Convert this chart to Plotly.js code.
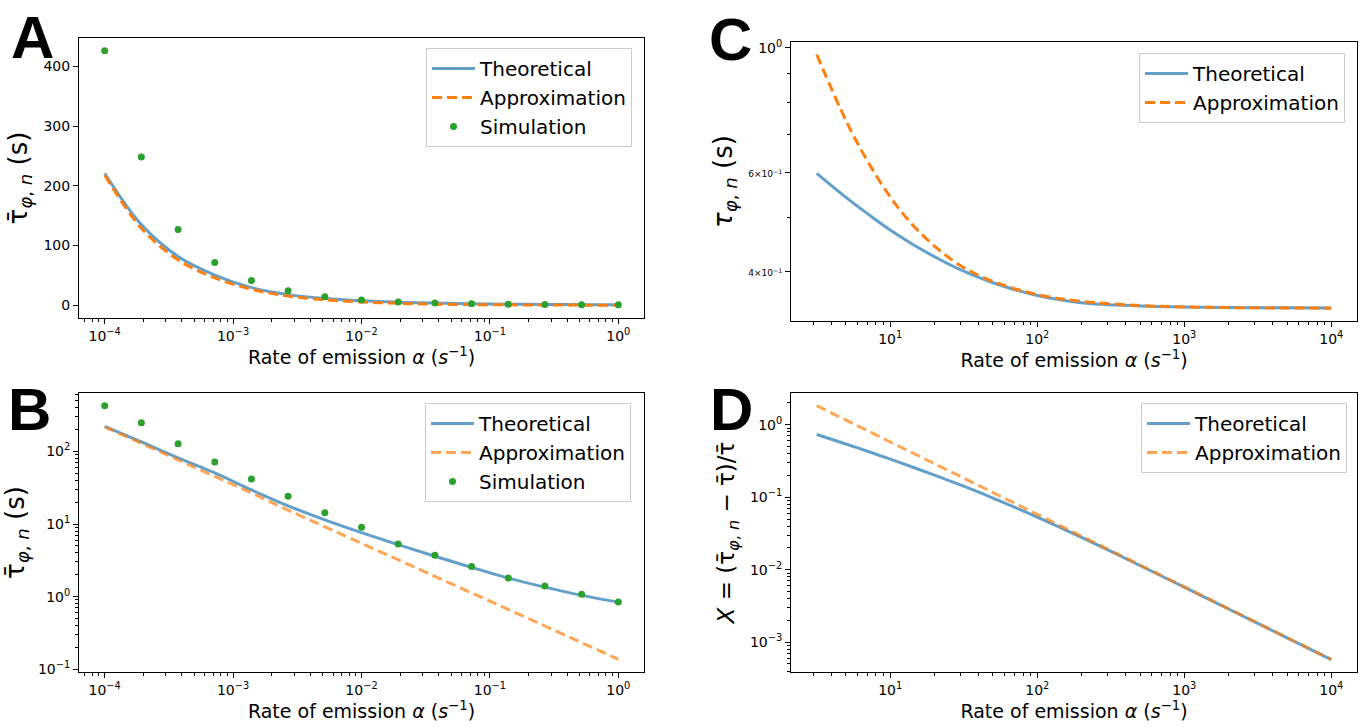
<!DOCTYPE html>
<html>
<head>
<meta charset="utf-8">
<script src="https://cdn.plot.ly/plotly-3.0.1.min.js"></script>
<style>
html,body{margin:0;padding:0;background:#fff;}
#chart{width:1363px;height:728px;}
</style>
</head>
<body>
<div id="chart"></div>
<script>
// ---------- Data ----------
// Panels A and B: rate of emission alpha (s^-1)
const simRate = [1e-4, 1.93e-4, 3.73e-4, 7.2e-4, 1.39e-3, 2.68e-3, 5.18e-3, 1e-2,
                 1.93e-2, 3.73e-2, 7.2e-2, 0.139, 0.268, 0.518, 1];
const simTau = [426, 248, 127, 71.5, 41.5, 24.2, 14.3, 9.0, 5.3, 3.7, 2.6, 1.8, 1.4, 1.08, 0.84];
const theoTauAB = [221, 135, 81.5, 50.5, 29.5, 17.8, 11.4, 7.6, 5.2, 3.6, 2.53, 1.80, 1.35, 1.04, 0.84];
const approxTauAB = [218, 129, 76, 46, 26.8, 15.5, 9.2, 5.45, 3.23, 1.91, 1.13, 0.666, 0.394, 0.232, 0.137];

// Panels C and D
const rateCD = [3.162, 5, 7, 10, 14, 20, 30, 50, 100, 200, 500, 1000, 2000, 5000, 10000];
const theoTauC = [0.598, 0.542, 0.507, 0.474, 0.448, 0.425, 0.403, 0.382, 0.3625, 0.352, 0.3474, 0.3459, 0.3452, 0.3447, 0.3443];
const approxTauC = [0.973, 0.742, 0.629, 0.543, 0.486, 0.444, 0.410, 0.384, 0.364, 0.354, 0.348, 0.346, 0.345, 0.3444, 0.3442];
const theoXD = [0.733, 0.542, 0.431, 0.335, 0.263, 0.202, 0.1476, 0.0973, 0.0532, 0.0279, 0.01143, 0.00574, 0.00287, 0.001148, 0.000574];
const approxXD = [1.83, 1.16, 0.83, 0.58, 0.414, 0.29, 0.193, 0.116, 0.058, 0.029, 0.0116, 0.0058, 0.0029, 0.00116, 0.00058];

// Tick labels
const tickValsAB = [1e-4, 1e-3, 1e-2, 1e-1, 1];
const tickTextAB = ['10<sup>−4</sup>', '10<sup>−3</sup>', '10<sup>−2</sup>', '10<sup>−1</sup>', '10<sup>0</sup>'];
const tickValsAY = [0, 100, 200, 300, 400];
const tickTextAY = ['0', '100', '200', '300', '400'];
const tickValsBY = [0.1, 1, 10, 100];
const tickTextBY = ['10<sup>−1</sup>', '10<sup>0</sup>', '10<sup>1</sup>', '10<sup>2</sup>'];
const tickValsCD = [10, 100, 1000, 10000];
const tickTextCD = ['10<sup>1</sup>', '10<sup>2</sup>', '10<sup>3</sup>', '10<sup>4</sup>'];
const tickValsCY = [0.4, 0.6, 1];
const tickTextCY = ['<span style="font-size:9px">4×10<sup>−1</sup></span>', '<span style="font-size:9px">6×10<sup>−1</sup></span>', '10<sup>0</sup>'];
const tickValsDY = [1e-3, 1e-2, 1e-1, 1];
const tickTextDY = ['10<sup>−3</sup>', '10<sup>−2</sup>', '10<sup>−1</sup>', '10<sup>0</sup>'];

const legendNames = ['Theoretical', 'Approximation', 'Simulation'];

// ---------- Styling helpers ----------
function minorLog(eMin, eMax) {
  const out = [];
  for (let e = eMin; e <= eMax; e++) {
    for (let k = 2; k <= 9; k++) out.push(k * Math.pow(10, e));
  }
  return out;
}
const BLUE = 'rgba(31,119,180,0.7)';
const ORANGE = '#ff7f0e';
const ORANGE_L = 'rgba(255,127,14,0.7)';
const GREEN = '#2ca02c';
const FONT = 'DejaVu Sans, Verdana, sans-serif';
const W = 1363, H = 728;
const px = v => v / W;
const py = v => 1 - v / H;

function axisBase(extra) {
  return Object.assign({
    showline: true, mirror: true, linecolor: '#000', linewidth: 1,
    ticks: 'outside', ticklen: 5, tickwidth: 1, tickcolor: '#000',
    showgrid: false, zeroline: false, automargin: false,
    tickfont: {family: FONT, size: 14, color: '#000'},
    tickmode: 'array'
  }, extra);
}
function xTitle(st) {
  return {text: 'Rate of emission <i>α</i> (<i>s</i><sup>−1</sup>)', font: {family: FONT, size: 19, color: '#000'}, standoff: st};
}
const minorStyle = {ticks: 'outside', ticklen: 3, tickwidth: 1, tickcolor: '#000', showgrid: false, tickmode: 'array'};

// ---------- Traces ----------
const traces = [
  // A
  {x: simRate, y: theoTauAB, xaxis: 'x', yaxis: 'y', type: 'scatter', mode: 'lines', name: legendNames[0],
   line: {color: BLUE, width: 3, shape: 'spline'}, legend: 'legend'},
  {x: simRate, y: approxTauAB, xaxis: 'x', yaxis: 'y', type: 'scatter', mode: 'lines', name: legendNames[1],
   line: {color: ORANGE, width: 3, dash: '10px,5px', shape: 'spline'}, legend: 'legend'},
  {x: simRate, y: simTau, xaxis: 'x', yaxis: 'y', type: 'scatter', mode: 'markers', name: legendNames[2],
   marker: {color: GREEN, size: 7}, legend: 'legend'},
  // B
  {x: simRate, y: theoTauAB, xaxis: 'x2', yaxis: 'y2', type: 'scatter', mode: 'lines', name: legendNames[0],
   line: {color: BLUE, width: 3, shape: 'spline'}, legend: 'legend2'},
  {x: simRate, y: approxTauAB, xaxis: 'x2', yaxis: 'y2', type: 'scatter', mode: 'lines', name: legendNames[1],
   line: {color: ORANGE_L, width: 3, dash: '10px,5px'}, legend: 'legend2'},
  {x: simRate, y: simTau, xaxis: 'x2', yaxis: 'y2', type: 'scatter', mode: 'markers', name: legendNames[2],
   marker: {color: GREEN, size: 7}, legend: 'legend2'},
  // C
  {x: rateCD, y: theoTauC, xaxis: 'x3', yaxis: 'y3', type: 'scatter', mode: 'lines', name: legendNames[0],
   line: {color: BLUE, width: 3, shape: 'spline'}, legend: 'legend3'},
  {x: rateCD, y: approxTauC, xaxis: 'x3', yaxis: 'y3', type: 'scatter', mode: 'lines', name: legendNames[1],
   line: {color: ORANGE, width: 3, dash: '10px,5px', shape: 'spline'}, legend: 'legend3'},
  // D
  {x: rateCD, y: theoXD, xaxis: 'x4', yaxis: 'y4', type: 'scatter', mode: 'lines', name: legendNames[0],
   line: {color: BLUE, width: 3, shape: 'spline'}, legend: 'legend4'},
  {x: rateCD, y: approxXD, xaxis: 'x4', yaxis: 'y4', type: 'scatter', mode: 'lines', name: legendNames[1],
   line: {color: ORANGE_L, width: 3, dash: '10px,5px'}, legend: 'legend4'}
];

function legendCfg(xr, yt) {
  return {x: px(xr), y: py(yt), xanchor: 'right', yanchor: 'top', xref: 'paper', yref: 'paper',
    bgcolor: 'rgba(255,255,255,0.85)', bordercolor: '#cccccc', borderwidth: 1,
    font: {family: FONT, size: 20, color: '#000'}, itemwidth: 43, tracegroupgap: 0};
}

const yTitleFont = {family: FONT, size: 26, color: '#000'};
const letterFont = {family: 'Liberation Sans, Arial, sans-serif', size: 60, color: '#000'};
function letter(t, x, yTop) {
  return {text: '<b>' + t + '</b>', x: px(x), y: py(yTop), xref: 'paper', yref: 'paper',
    xanchor: 'left', yanchor: 'top', showarrow: false, font: letterFont,
    height: 48, valign: 'middle', borderpad: 0};
}

const layout = {
  width: W, height: H,
  margin: {l: 0, r: 0, t: 0, b: 0},
  paper_bgcolor: '#fff', plot_bgcolor: '#fff',
  font: {family: FONT, color: '#000'},
  showlegend: true,
  // A
  xaxis: axisBase({domain: [px(79), px(644)], anchor: 'y', type: 'log', range: [-4.2, 0.2],
    tickvals: tickValsAB, ticktext: tickTextAB, title: xTitle(0),
    minor: Object.assign({tickvals: minorLog(-5, 0)}, minorStyle)}),
  yaxis: axisBase({domain: [py(318), py(38)], anchor: 'x', range: [-21.3, 447.3],
    tickvals: tickValsAY, ticktext: tickTextAY,
    title: {text: 'τ̄<sub><i>φ</i>, <i>n</i></sub> (s)', font: yTitleFont, standoff: 8}}),
  // B
  xaxis2: axisBase({domain: [px(79), px(644)], anchor: 'y2', type: 'log', range: [-4.2, 0.2],
    tickvals: tickValsAB, ticktext: tickTextAB, title: xTitle(3),
    minor: Object.assign({tickvals: minorLog(-5, 0)}, minorStyle)}),
  yaxis2: axisBase({domain: [py(672), py(393)], anchor: 'x2', type: 'log', range: [-1.038, 2.804],
    tickvals: tickValsBY, ticktext: tickTextBY,
    minor: Object.assign({tickvals: minorLog(-2, 2)}, minorStyle),
    title: {text: 'τ̄<sub><i>φ</i>, <i>n</i></sub> (s)', font: yTitleFont, standoff: 8}}),
  // C
  xaxis3: axisBase({domain: [px(791), px(1357)], anchor: 'y3', type: 'log', range: [0.325, 4.175],
    tickvals: tickValsCD, ticktext: tickTextCD, title: xTitle(1),
    minor: Object.assign({tickvals: minorLog(0, 4)}, minorStyle)}),
  yaxis3: axisBase({domain: [py(321), py(42)], anchor: 'x3', type: 'log', range: [-0.486, 0.0103],
    tickvals: tickValsCY, ticktext: tickTextCY,
    minor: Object.assign({tickvals: [0.5, 0.7, 0.8, 0.9]}, minorStyle),
    title: {text: '<i>τ</i><sub><i>φ</i>, <i>n</i></sub> (s)', font: yTitleFont, standoff: 8}}),
  // D
  xaxis4: axisBase({domain: [px(791), px(1357)], anchor: 'y4', type: 'log', range: [0.325, 4.175],
    tickvals: tickValsCD, ticktext: tickTextCD, title: xTitle(3),
    minor: Object.assign({tickvals: minorLog(0, 4)}, minorStyle)}),
  yaxis4: axisBase({domain: [py(672), py(393)], anchor: 'x4', type: 'log', range: [-3.4115, 0.4375],
    tickvals: tickValsDY, ticktext: tickTextDY,
    minor: Object.assign({tickvals: minorLog(-4, 0)}, minorStyle),
    title: {text: '<i>X</i> = (τ̄<sub><i>φ</i>, <i>n</i></sub> − τ̄)/τ̄', font: {family: FONT, size: 23, color: '#000'}, standoff: 8}}),
  legend: legendCfg(632, 48),
  legend2: legendCfg(631, 403),
  legend3: legendCfg(1345, 53),
  legend4: legendCfg(1347, 403),
  annotations: [
    letter('A', 10, 12),
    letter('B', 7, 384),
    letter('C', 708, 14),
    letter('D', 709, 384)
  ]
};

Plotly.newPlot('chart', traces, layout, {staticPlot: true, displayModeBar: false});
</script>
</body>
</html>
